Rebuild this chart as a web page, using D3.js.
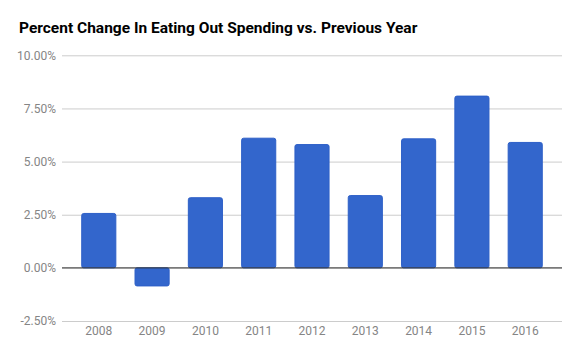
<!DOCTYPE html>
<html><head><meta charset="utf-8">
<script src="https://cdn.jsdelivr.net/npm/d3@7"></script>
<style>body{margin:0;background:#fff}svg{display:block}</style>
</head><body>
<svg id="chart" width="580" height="359"></svg>
<script>
const years = ["2008","2009","2010","2011","2012","2013","2014","2015","2016"];
const values = [2.56, -0.85, 3.3, 6.1, 5.8, 3.4, 6.07, 8.08, 5.9];
const yTicks = [-2.5, 0, 2.5, 5, 7.5, 10];
const title = "Percent Change In Eating Out Spending vs. Previous Year";

const svg = d3.select("#chart");
const x = d3.scaleBand().domain(years).range([62, 562]).paddingInner(0.36).paddingOuter(0.37);
const y = d3.scaleLinear().domain([-2.5, 10]).range([321, 55.3]);

svg.append("rect").attr("width",580).attr("height",359).attr("fill","#fff");

svg.append("text").attr("x",19).attr("y",33)
  .attr("font-family","Roboto").attr("font-weight","bold").attr("font-size",15.5)
  .attr("fill","#000").text(title);

const yAxis = d3.axisLeft(y).tickValues(yTicks).tickSize(-500).tickPadding(6)
  .tickFormat(d => d.toFixed(2) + "%");
const gy = svg.append("g").attr("transform","translate(62,0)").call(yAxis);
gy.select(".domain").remove();
gy.selectAll(".tick line").attr("stroke","#cccccc").attr("stroke-width",1);
gy.selectAll(".tick text").attr("font-family","Roboto").attr("font-size",12).attr("fill","#858585");

svg.append("g").selectAll("rect").data(values).join("rect")
  .attr("x",(d,i)=>x(years[i]))
  .attr("y",d=>y(Math.max(0,d)))
  .attr("width",x.bandwidth())
  .attr("height",d=>Math.abs(y(d)-y(0)))
  .attr("rx",2)
  .attr("fill","#3366cc").attr("stroke","#2d5fc7").attr("stroke-width",1);

svg.append("line").attr("x1",62).attr("x2",562).attr("y1",y(0)).attr("y2",y(0))
  .attr("stroke","#333").attr("stroke-width",1);

const xAxis = d3.axisBottom(x).tickSize(0).tickPadding(0);
const gx = svg.append("g").attr("transform","translate(0,326)").call(xAxis);
gx.select(".domain").remove();
gx.selectAll(".tick text").attr("font-family","Roboto").attr("font-size",12).attr("fill","#858585").attr("dy","0.71em");
</script>
</body></html>
